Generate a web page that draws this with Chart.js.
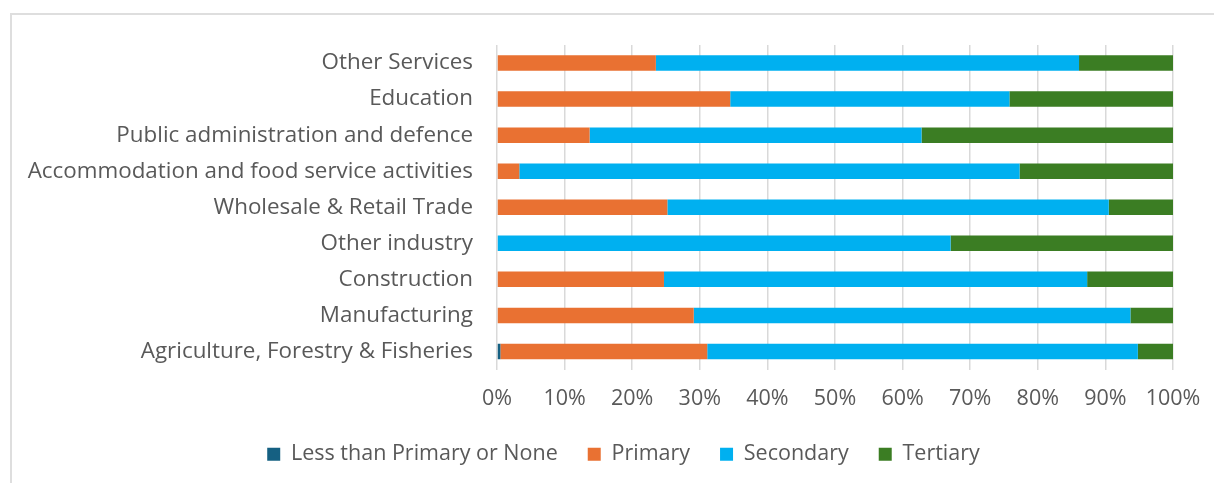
<!DOCTYPE html>
<html>
<head>
<meta charset="utf-8">
<script src="https://cdn.jsdelivr.net/npm/chart.js@4/dist/chart.umd.min.js"></script>
<style>
  html, body { margin: 0; padding: 0; background: #fff; }
  .wrap { position: relative; width: 1214px; height: 483px; overflow: hidden; }
  .frame {
    position: absolute; left: 10px; top: 13px; right: -10px; bottom: -10px;
    border-top: 2px solid #dedede; border-left: 2px solid #dedede;
  }
  canvas { position: absolute; left: 0; top: 0; }
</style>
</head>
<body>
<div class="wrap">
  <div class="frame"></div>
  <canvas id="eduChart" width="1214" height="483"></canvas>
</div>
<script>
// Sectors, top to bottom
const sectors = [
  'Other Services',
  'Education',
  'Public administration and defence',
  'Accommodation and food service activities',
  'Wholesale & Retail Trade',
  'Other industry',
  'Construction',
  'Manufacturing',
  'Agriculture, Forestry & Fisheries'
];

// Share of workers by education level (%)
const lessThanPrimary = [0, 0, 0, 0, 0, 0, 0, 0, 0.5];
const primary   = [23.5, 34.5, 13.7, 3.3, 25.2, 0, 24.7, 29.1, 30.6];
const secondary = [62.6, 41.3, 49.1, 74.0, 65.3, 67.1, 62.6, 64.6, 63.7];
const tertiary  = [13.9, 24.2, 37.2, 22.7, 9.5, 32.9, 12.7, 6.3, 5.2];

const xTicks = [0, 10, 20, 30, 40, 50, 60, 70, 80, 90, 100];

const FONT = "'Open Sans', sans-serif";
const TEXT = '#595959';

Chart.defaults.font.family = FONT;
Chart.defaults.color = TEXT;

function series(label, data, color) {
  return {
    label, data,
    backgroundColor: color,
    borderWidth: 0,
    barPercentage: 0.43,
    categoryPercentage: 1
  };
}

// nudge the bottom legend so it sits under the frame's centre
const legendShift = {
  id: 'legendShift',
  afterLayout(chart) {
    const lg = chart.legend;
    if (!lg) return;
    lg.left += 37;
    lg.right += 37;
    lg.adjustHitBoxes && lg.adjustHitBoxes();
  }
};

new Chart(document.getElementById('eduChart').getContext('2d'), {
  type: 'bar',
  data: {
    labels: sectors,
    datasets: [
      series('Less than Primary or None', lessThanPrimary, '#156082'),
      series('Primary', primary, '#E97132'),
      series('Secondary', secondary, '#00B0F0'),
      series('Tertiary', tertiary, '#3B7D23')
    ]
  },
  plugins: [legendShift],
  options: {
    indexAxis: 'y',
    responsive: false,
    animation: false,
    layout: { padding: { left: 0, top: 45, right: 41, bottom: 8 } },
    plugins: {
      tooltip: { enabled: false },
      legend: {
        position: 'bottom',
        labels: {
          boxWidth: 13, boxHeight: 13, padding: 30,
          font: { size: 21.5 }, color: TEXT
        }
      }
    },
    scales: {
      x: {
        stacked: true, min: 0, max: 100,
        afterBuildTicks: s => { s.ticks = xTicks.map(v => ({ value: v })); },
        afterFit: s => { s.height = 44; s.paddingLeft = 0; s.paddingRight = 0; },
        grid: { color: '#d9d9d9', lineWidth: 1.5, drawTicks: false },
        border: { display: false },
        ticks: { font: { size: 21.5 }, color: TEXT, padding: 16, callback: v => v + '%' }
      },
      y: {
        stacked: true,
        afterFit: s => { s.width = 497; },
        grid: { display: false },
        border: { display: false },
        ticks: { font: { size: 22.4 }, color: TEXT, padding: 16, autoSkip: false }
      }
    }
  }
});
</script>
</body>
</html>
